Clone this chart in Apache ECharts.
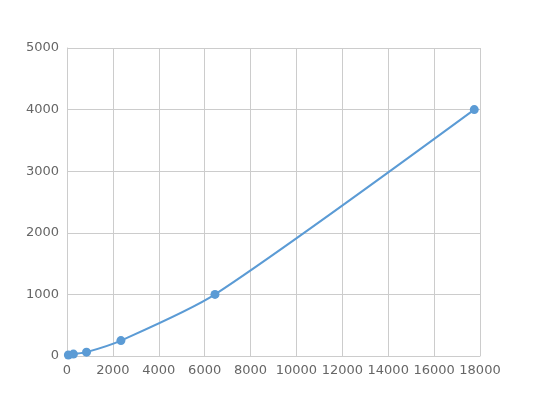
<!DOCTYPE html>
<html><head><meta charset="utf-8">
<script src="https://cdn.jsdelivr.net/npm/echarts@6/dist/echarts.min.js"></script>
<style>html,body{margin:0;padding:0;background:#fff}#c{width:533px;height:400px}</style>
</head><body><div id="c"></div>
<script>
const xValues = [60, 280, 850, 2350, 6450, 17750];
const yValues = [15.6, 31.3, 62.5, 250, 1000, 4000];
const chart = echarts.init(document.getElementById('c'));
const axisCommon = {
  axisLine: {show: true, lineStyle: {color: '#cccccc'}},
  axisTick: {show: false},
  axisLabel: {color: '#666666', fontSize: 13, fontFamily: 'DejaVu Sans', formatter: v => String(v)},
  splitLine: {show: true, lineStyle: {color: '#cccccc', width: 1}}
};
chart.setOption({
  animation: false,
  grid: {left: 67, right: 53, top: 48, bottom: 44},
  xAxis: Object.assign({type: 'value', min: 0, max: 18000, interval: 2000}, axisCommon),
  yAxis: Object.assign({type: 'value', min: 0, max: 5000, interval: 1000}, axisCommon),
  series: [{
    type: 'line',
    data: xValues.map((x, i) => [x, yValues[i]]),
    smooth: 0.25,
    symbol: 'circle',
    symbolSize: 9,
    itemStyle: {color: '#5b9bd5'},
    lineStyle: {color: '#5b9bd5', width: 2}
  }]
});
</script></body></html>
